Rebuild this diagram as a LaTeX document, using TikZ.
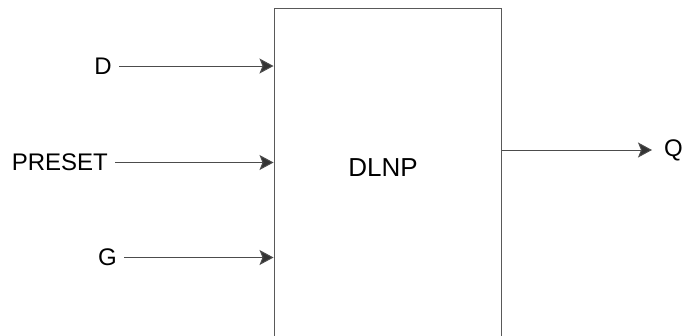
\documentclass[tikz,border=0pt]{standalone}
\usepackage{fontspec}
\setmainfont{Liberation Sans}
\usetikzlibrary{arrows.meta,positioning}
\tikzset{
 dl block/.style={draw=black!65,line width=1pt,minimum width=227.5pt,
                  minimum height=340pt,inner sep=0pt,anchor=north west},
 dl pin/.style={line width=1pt,draw=black!70,
                -{Stealth[length=14pt,width=15pt,inset=3pt,fill=black!80]}},
 dl pin label/.style={inner sep=0pt,font=\fontsize{24}{28}\selectfont},
 dl name/.style={inner sep=0pt,font=\fontsize{26}{30}\selectfont}
}
\begin{document}
\begin{tikzpicture}[x=1pt,y=-1pt]
 \useasboundingbox (0,0) rectangle (684,335);
 \node[dl block] (dlnp) at (273.5,7.5) {};
 \node[dl name] (dlnpname) at (383,167.5) {DLNP};
 % inputs
 \foreach \n/\t/\y/\x in {d/D/66/112,preset/PRESET/162.5/108,g/G/257.5/117}{
   \node[dl pin label,anchor=east] (\n) at (\x,\y) {\t};
   \coordinate (\n pin) at (\x+7,\y);
   \draw[dl pin] (\n pin) -- (\n pin -| dlnp.west);
 }
 % output
 \node[dl pin label,anchor=west] (q) at (664,150) {Q};
 \coordinate (qpin) at (652,150);
 \draw[dl pin] (qpin -| dlnp.east) -- (qpin);
\end{tikzpicture}
\end{document}
